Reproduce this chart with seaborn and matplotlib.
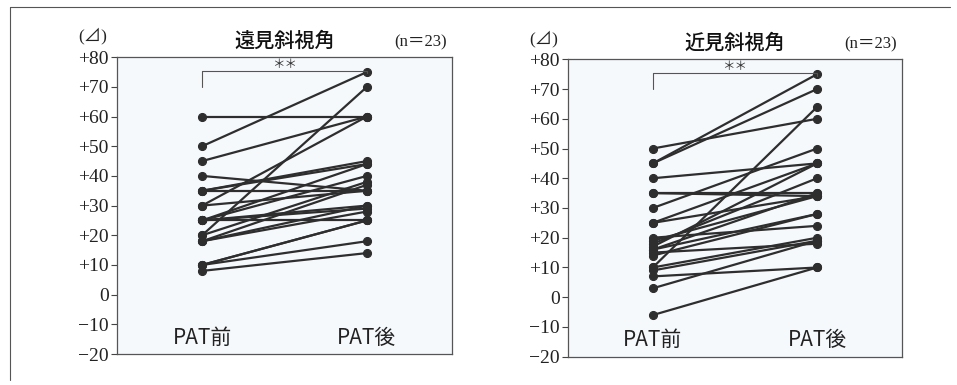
import pandas as pd
import matplotlib.pyplot as plt
import matplotlib.lines as mlines
import seaborn as sns

# paired values, before / after PAT (prism dioptres)
far_pre = [60, 50, 45, 30, 20, 40, 35, 35, 35, 30, 25, 25, 25, 25, 25, 20, 18, 18, 18, 10, 10, 10, 8]
far_post = [60, 75, 60, 60, 70, 35, 35, 45, 44, 35, 44, 40, 30, 25, 29, 38, 37, 28, 30, 25, 25, 18, 14]

near_pre = [50, 45, 45, 40, 35, 35, 30, 25, 25, 20, 18, 17, 16, 15, 14, 10, 10, 9, 7, 3, -6, 19, 16]
near_post = [60, 75, 70, 45, 35, 34, 50, 45, 34, 24, 40, 45, 35, 18, 28, 64, 20, 19, 10, 19, 10, 34, 28]

panel_titles = ['遠見斜視角', '近見斜視角']
phase_labels = ['PAT前', 'PAT後']
n_label = '(n＝23)'
yticks = list(range(-20, 81, 10))

sns.set_theme(style='white')
plt.rcParams['font.family'] = ['Liberation Serif', 'Noto Sans CJK JP', 'DejaVu Sans']
plt.rcParams['axes.unicode_minus'] = True


def long_form(pre, post):
    rows = []
    for i, (a, b) in enumerate(zip(pre, post)):
        rows.append({'subject': i, 'phase': 0, 'value': a})
        rows.append({'subject': i, 'phase': 1, 'value': b})
    return pd.DataFrame(rows)


def tick_text(v):
    if v > 0:
        return f'+{v}'
    if v < 0:
        return f'\u2212{-v}'
    return '0'


fig = plt.figure(figsize=(9.57, 3.85), dpi=100)
axes_pos = [[0.1223, 0.0805, 0.350, 0.771], [0.5935, 0.0735, 0.349, 0.7725]]
data_sets = [(far_pre, far_post), (near_pre, near_post)]

line_col = '#2e2e2e'
for pos, (pre, post), title in zip(axes_pos, data_sets, panel_titles):
    ax = fig.add_axes(pos)
    ax.set_facecolor('#f6f9fc')
    df = long_form(pre, post)
    sns.lineplot(data=df, x='phase', y='value', units='subject', estimator=None,
                 color=line_col, linewidth=1.6, marker='o', markersize=5.8,
                 markeredgecolor=line_col, markerfacecolor=line_col, ax=ax, legend=False)

    ax.set_xlim(-0.516, 1.516)
    ax.set_ylim(-20, 80)
    ax.set_yticks(yticks)
    ax.set_yticklabels([tick_text(v) for v in yticks], fontsize=14, color='#222222')
    ax.set_xticks([])
    ax.set_xlabel('')
    ax.set_ylabel('')
    ax.tick_params(axis='y', direction='out', length=4, width=0.8, color='#444444', pad=2, left=True)
    for sp in ax.spines.values():
        sp.set_color('#555555')
        sp.set_linewidth(0.9)

    # phase labels inside the axes
    for x, lab in zip([0, 1], phase_labels):
        ax.text(x, -14.5, lab, ha='center', va='center', fontsize=15,
                family=['Noto Sans CJK JP'], color='#222222')

    # significance bracket
    ax.plot([0, 0, 1, 1], [70, 75.3, 75.3, 74.5], color='#555555', linewidth=0.8)
    ax.text(0.5, 77.6, '＊＊', ha='center', va='center', fontsize=9,
            family=['Noto Sans CJK JP'], color='#333333')

    # titles
    ax.text(0.5, 1.055, title, transform=ax.transAxes, ha='center', va='center',
            fontsize=14.5, family=['Noto Sans CJK JP'], fontweight='medium', color='#111111')
    ax.text(0.905, 1.05, n_label, transform=ax.transAxes, ha='center', va='center',
            fontsize=12, color='#222222')
    ax.text(-0.072, 1.07, '(⊿)', transform=ax.transAxes, ha='center', va='center',
            fontsize=12.5, color='#222222')

# scanned page frame (top and left edges)
fig.add_artist(mlines.Line2D([10 / 957, 950 / 957], [1 - 7 / 385, 1 - 7 / 385],
                             transform=fig.transFigure, color='#555555', linewidth=0.8))
fig.add_artist(mlines.Line2D([10 / 957, 10 / 957], [1 - 7 / 385, 1 - 380 / 385],
                             transform=fig.transFigure, color='#555555', linewidth=0.8))

plt.savefig('out.png', dpi=100)
plt.close()
